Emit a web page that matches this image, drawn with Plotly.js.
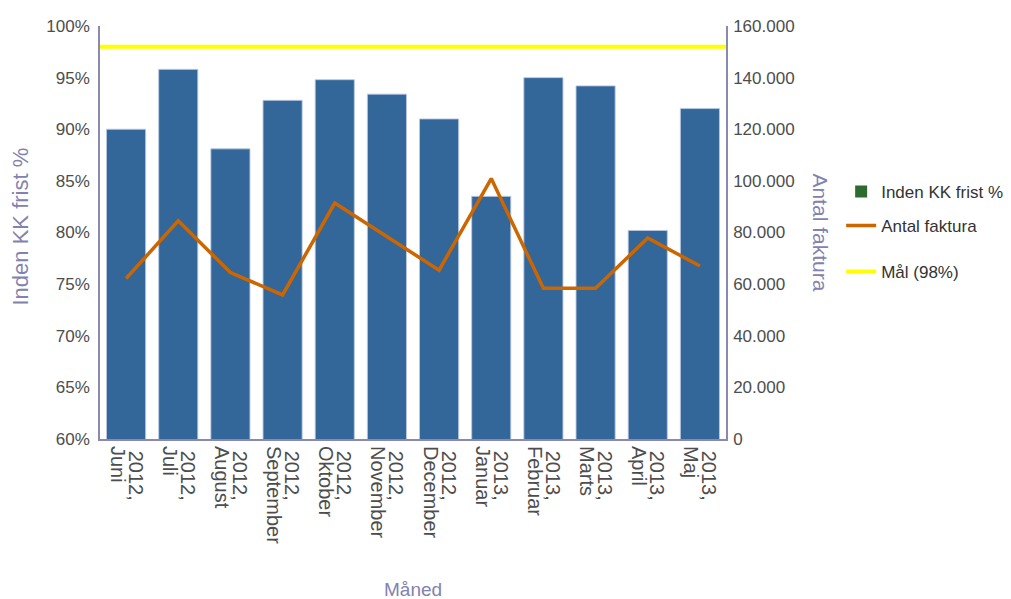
<!DOCTYPE html>
<html>
<head>
<meta charset="utf-8">
<script src="https://cdn.plot.ly/plotly-3.0.1.min.js"></script>
<style>
  html, body { margin: 0; padding: 0; background: #ffffff; }
  #chart { width: 1011px; height: 599px; }
</style>
</head>
<body>
<div id="chart"></div>
<script>
// Monthly invoice statistics, June 2012 - May 2013
const years = ['2012', '2012', '2012', '2012', '2012', '2012', '2012',
               '2013', '2013', '2013', '2013', '2013'];
const months = ['Juni', 'Juli', 'August', 'September', 'Oktober', 'November',
                'December', 'Januar', 'Februar', 'Marts', 'April', 'Maj'];

// Share of invoices handled within the deadline (%)
const indenFrist = [90.0, 95.8, 88.1, 92.8, 94.8, 93.4, 91.0, 83.5, 95.0, 94.2, 80.2, 92.0];
// Number of invoices
const antalFaktura = [62200, 84500, 64500, 55800, 91400, 78300, 65400, 100900, 58400, 58400, 77900, 67000];
// Target share (%)
const maal = 98;

const categories = months.map((m, i) => years[i] + ', ' + m);
const yearTicks = years.map(y => y + ',');

const axisColor = '#8a8ab0';
const titleColor = '#8282b0';
const tickColor = '#4d4d4d';
const fontFamily = '"Liberation Sans", Arial, sans-serif';

const traces = [
  {
    type: 'bar',
    x: categories,
    y: indenFrist,
    xaxis: 'x',
    yaxis: 'y',
    name: 'Inden KK frist %',
    showlegend: false,
    marker: { color: '#336699', line: { color: 'rgba(185,200,228,0.9)', width: 1 } },
    hovertemplate: '%{x}<br>%{y:.1f}%<extra></extra>'
  },
  {
    // legend entry for the bar series
    type: 'bar',
    x: [null],
    y: [null],
    name: 'Inden KK frist %',
    legend: 'legend',
    showlegend: true,
    hoverinfo: 'skip',
    marker: { color: '#2e6b30' }
  },
  {
    type: 'scatter',
    mode: 'lines',
    x: categories,
    y: antalFaktura,
    xaxis: 'x2',
    yaxis: 'y2',
    name: 'Antal faktura',
    legend: 'legend2',
    line: { color: '#cc6600', width: 3.5 },
    hovertemplate: '%{x}<br>%{y:,d}<extra></extra>'
  }
];

const legendBase = {
  xref: 'container', yref: 'container',
  x: 0.832, xanchor: 'left', yanchor: 'middle',
  bgcolor: 'rgba(0,0,0,0)',
  font: { family: fontFamily, size: 17, color: '#333333' },
  itemwidth: 30
};

const layout = {
  width: 1011,
  height: 599,
  paper_bgcolor: '#ffffff',
  plot_bgcolor: '#ffffff',
  margin: { l: 100, r: 285, t: 26, b: 160 },
  font: { family: fontFamily, color: tickColor },
  separators: ',.',
  barmode: 'overlay',
  bargap: 0.25,
  xaxis: {
    type: 'category',
    anchor: 'y',
    range: [-0.5, 11.5],
    tickmode: 'array',
    tickvals: categories,
    ticktext: yearTicks,
    tickangle: 90,
    ticklabelshift: 9,
    ticklabelstandoff: 6,
    ticks: '',
    showgrid: false,
    showline: true,
    linecolor: axisColor,
    linewidth: 1.5,
    tickfont: { family: fontFamily, size: 20, color: tickColor }
  },
  xaxis2: {
    type: 'category',
    overlaying: 'x',
    anchor: 'y',
    side: 'bottom',
    range: [-0.5, 11.5],
    tickmode: 'array',
    tickvals: categories,
    ticktext: months,
    tickangle: 90,
    ticklabelshift: -9,
    ticklabelstandoff: 6,
    ticks: '',
    showgrid: false,
    showline: false,
    tickfont: { family: fontFamily, size: 20, color: tickColor }
  },
  yaxis: {
    range: [60, 100],
    dtick: 5,
    ticksuffix: '%',
    ticks: '',
    ticklabelstandoff: 5,
    showgrid: false,
    zeroline: false,
    showline: true,
    linecolor: axisColor,
    linewidth: 1.5,
    tickfont: { family: fontFamily, size: 17, color: tickColor }
  },
  yaxis2: {
    overlaying: 'y',
    side: 'right',
    anchor: 'x',
    range: [0, 160000],
    dtick: 20000,
    tickformat: ',d',
    ticks: '',
    ticklabelstandoff: 2,
    showgrid: false,
    zeroline: false,
    showline: true,
    linecolor: axisColor,
    linewidth: 1.5,
    tickfont: { family: fontFamily, size: 17, color: tickColor }
  },
  shapes: [
    {
      type: 'line',
      xref: 'paper', x0: 0, x1: 1,
      yref: 'y', y0: maal, y1: maal,
      line: { color: '#ffff00', width: 4 },
      name: 'Mål (98%)',
      showlegend: true,
      legend: 'legend3'
    }
  ],
  annotations: [
    {
      // left axis title
      text: 'Inden KK frist %',
      xref: 'paper', yref: 'paper',
      x: 0, y: 0.5,
      xanchor: 'center', yanchor: 'middle',
      xshift: -80, yshift: 6,
      textangle: -90,
      showarrow: false,
      font: { family: fontFamily, size: 22, color: titleColor }
    },
    {
      // right axis title
      text: 'Antal faktura',
      xref: 'paper', yref: 'paper',
      x: 1, y: 0.5,
      xanchor: 'center', yanchor: 'middle',
      xshift: 94,
      textangle: 90,
      showarrow: false,
      font: { family: fontFamily, size: 21, color: titleColor }
    },
    {
      // x axis title
      text: 'Måned',
      xref: 'paper', yref: 'paper',
      x: 0.5, y: 0,
      xanchor: 'center', yanchor: 'middle',
      yshift: -150,
      showarrow: false,
      font: { family: fontFamily, size: 19, color: titleColor }
    }
  ],
  legend: Object.assign({}, legendBase, { y: 1 - 192 / 599 }),
  legend2: Object.assign({}, legendBase, { y: 1 - 226 / 599 }),
  legend3: Object.assign({}, legendBase, { y: 1 - 272 / 599 })
};

Plotly.newPlot('chart', traces, layout, { displayModeBar: false, responsive: false });
</script>
</body>
</html>
